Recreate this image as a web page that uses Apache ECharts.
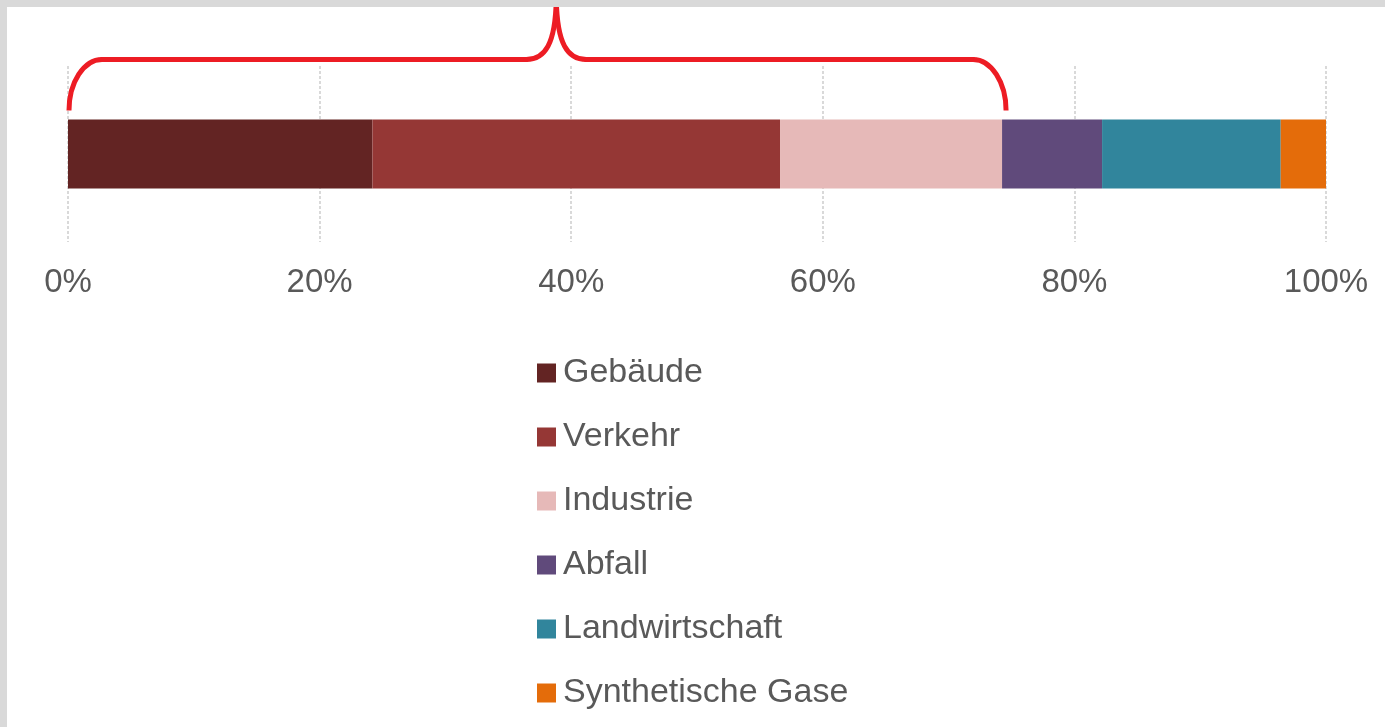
<!DOCTYPE html>
<html>
<head>
<meta charset="utf-8">
<script src="https://cdn.jsdelivr.net/npm/echarts@6/dist/echarts.min.js"></script>
<style>
html,body{margin:0;padding:0;background:#fff;}
#c{width:1385px;height:727px;}
</style>
</head>
<body>
<div id="c"></div>
<script>
const categories = ['Emissionen'];
const seriesNames = ['Gebäude', 'Verkehr', 'Industrie', 'Abfall', 'Landwirtschaft', 'Synthetische Gase'];
const seriesValues = [24.2, 32.4, 17.65, 7.95, 14.2, 3.6];
const seriesColors = ['#632423', '#953735', '#e6b9b8', '#604a7b', '#31859c', '#e46c0a'];
const tickValues = [0, 20, 40, 60, 80, 100];
const bracedCount = 3; // brace covers Gebäude, Verkehr, Industrie

const chart = echarts.init(document.getElementById('c'), null, {renderer: 'canvas'});
const textColor = '#595959';
const fontFamily = '"Liberation Sans", Arial, sans-serif';

const series = seriesNames.map((name, i) => ({
  name: name,
  type: 'bar',
  stack: 'total',
  barWidth: 69,
  itemStyle: {color: seriesColors[i]},
  emphasis: {disabled: true},
  data: [seriesValues[i]]
}));

chart.setOption({
  animation: false,
  textStyle: {fontFamily: fontFamily},
  grid: {left: 68, right: 59, top: 66, bottom: 485, containLabel: false},
  xAxis: {
    type: 'value',
    min: tickValues[0],
    max: tickValues[tickValues.length - 1],
    interval: tickValues[1] - tickValues[0],
    axisLine: {show: false},
    axisTick: {show: false},
    axisLabel: {formatter: '{value}%', color: textColor, fontSize: 33, margin: 24, fontFamily: fontFamily},
    splitLine: {show: true, lineStyle: {color: '#d9d9d9', width: 2, type: [3, 2]}}
  },
  yAxis: {
    type: 'category',
    data: categories,
    axisLine: {show: false},
    axisTick: {show: false},
    axisLabel: {show: false},
    splitLine: {show: false}
  },
  legend: {
    orient: 'vertical',
    left: 537,
    top: 356,
    padding: 0,
    icon: 'rect',
    itemWidth: 19,
    itemHeight: 19,
    itemGap: 30,
    selectedMode: false,
    textStyle: {color: textColor, fontSize: 34, lineHeight: 34, padding: [0, 0, 0, 2], fontFamily: fontFamily},
    data: seriesNames
  },
  series: series
});

function drawBrace() {
  let braced = 0;
  for (let i = 0; i < bracedCount; i++) braced += seriesValues[i];
  const x0 = chart.convertToPixel({xAxisIndex: 0}, 0) + 1;
  const x1 = chart.convertToPixel({xAxisIndex: 0}, braced) + 4;
  const yc = chart.convertToPixel({yAxisIndex: 0}, categories[0]);
  const barTop = yc - 34.5;
  const yArm = barTop - 9;     // arm bottom
  const yH = barTop - 60;      // horizontal part
  const yTip = barTop - 125;   // tip (clipped by frame)
  const xm = x0 + 0.52 * (x1 - x0);
  const r = 33;
  const rm = 30;
  const k = 0.55;
  const dy = yArm - yH;
  const st = {fill: null, stroke: '#ed1c24', lineWidth: 5, lineCap: 'round'};
  const g = [
    {type: 'bezierCurve', shape: {x1: x0, y1: yArm, cpx1: x0, cpy1: yArm - dy * k, cpx2: x0 + r * (1 - k), cpy2: yH, x2: x0 + r, y2: yH}},
    {type: 'line', shape: {x1: x0 + r, y1: yH, x2: xm - rm, y2: yH}},
    {type: 'bezierCurve', shape: {x1: xm - rm, y1: yH, cpx1: xm - 12, cpy1: yH, cpx2: xm, cpy2: yH - 14, x2: xm, y2: yTip}},
    {type: 'bezierCurve', shape: {x1: xm, y1: yTip, cpx1: xm, cpy1: yH - 14, cpx2: xm + 12, cpy2: yH, x2: xm + rm, y2: yH}},
    {type: 'line', shape: {x1: xm + rm, y1: yH, x2: x1 - r, y2: yH}},
    {type: 'bezierCurve', shape: {x1: x1 - r, y1: yH, cpx1: x1 - r * (1 - k), cpy1: yH, cpx2: x1, cpy2: yArm - dy * k, x2: x1, y2: yArm}}
  ].map(e => Object.assign(e, {style: st, z: 50, silent: true}));
  g[0].style = Object.assign({}, st, {lineCap: 'butt'});
  g[5].style = Object.assign({}, st, {lineCap: 'butt'});
  g.push({type: 'rect', shape: {x: 0, y: 0, width: 1385, height: 7}, style: {fill: '#d9d9d9'}, z: 100, silent: true});
  g.push({type: 'rect', shape: {x: 0, y: 0, width: 7, height: 727}, style: {fill: '#d9d9d9'}, z: 100, silent: true});
  chart.setOption({graphic: g});
}
drawBrace();
</script>
</body>
</html>
